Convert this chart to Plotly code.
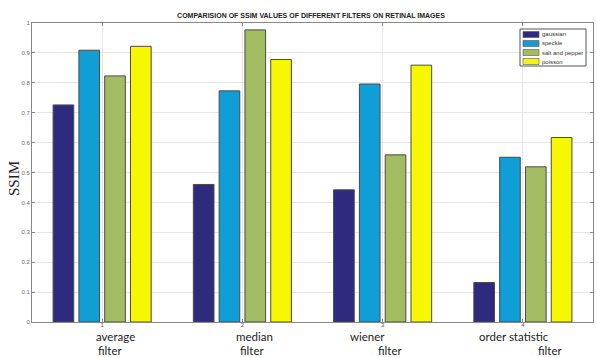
import plotly.graph_objects as go

categories = [1, 2, 3, 4]
tick_text = ["1", "2", "3", "4"]
filter_line1 = ["average", "median", "wiener", "order statistic"]
filter_line2 = ["filter", "filter", "filter", "filter"]

series_names = ["gaussian", "speckle", "salt and pepper", "poisson"]
gaussian = [0.726, 0.460, 0.442, 0.132]
speckle = [0.909, 0.773, 0.796, 0.551]
salt_and_pepper = [0.823, 0.977, 0.559, 0.519]
poisson = [0.922, 0.878, 0.859, 0.617]
series_values = [gaussian, speckle, salt_and_pepper, poisson]
colors = ["#2e2a7e", "#0f9fd6", "#a2bc62", "#f7f700"]

yticks = [0, 0.1, 0.2, 0.3, 0.4, 0.5, 0.6, 0.7, 0.8, 0.9, 1]
ytick_text = ["0", "0.1", "0.2", "0.3", "0.4", "0.5", "0.6", "0.7", "0.8", "0.9", "1"]

W, H = 597, 358
L, R, T, B = 32, 4, 23, 36
PW, PH = W - L - R, H - T - B

fig = go.Figure()
for name, vals, col in zip(series_names, series_values, colors):
    fig.add_trace(go.Bar(x=categories, y=vals, name=name,
                         marker=dict(color=col, line=dict(color="#4a4a4a", width=1)),
                         showlegend=False))

def px_x(p):
    return (p - L) / PW

def px_y(p):
    return (H - B - p) / PH

shapes = []
annotations = []
# manual legend
shapes.append(dict(type="rect", xref="paper", yref="paper",
                   x0=px_x(520), x1=px_x(586), y0=px_y(66), y1=px_y(29),
                   line=dict(color="#555555", width=1), fillcolor="white", layer="above"))
row_y = [34.5, 43.5, 52.5, 61.5]
for name, col, ry in zip(series_names, colors, row_y):
    shapes.append(dict(type="rect", xref="paper", yref="paper",
                       x0=px_x(523), x1=px_x(539), y0=px_y(ry + 3), y1=px_y(ry - 3),
                       line=dict(color="#555555", width=0.6), fillcolor=col, layer="above"))
    annotations.append(dict(xref="paper", yref="paper", x=px_x(540), y=px_y(ry),
                            text=name, showarrow=False, xanchor="left", yanchor="middle",
                            font=dict(family="Liberation Sans", size=6, color="#333333")))

shift1 = [13, 12, -15, -9]
shift2 = [8, 10, 7, 27]
for c, t1, t2, s1, s2 in zip(categories, filter_line1, filter_line2, shift1, shift2):
    annotations.append(dict(xref="x", yref="paper", x=c, y=px_y(336), xshift=s1,
                            text=t1, showarrow=False, xanchor="center", yanchor="middle",
                            font=dict(family="Lato", size=11.5, color="#222222")))
    annotations.append(dict(xref="x", yref="paper", x=c, y=px_y(350.8), xshift=s2,
                            text=t2, showarrow=False, xanchor="center", yanchor="middle",
                            font=dict(family="Lato", size=11.5, color="#222222")))

annotations.append(dict(xref="paper", yref="paper", x=px_x(14), y=px_y(178),
                        text="SSIM", showarrow=False, textangle=-90,
                        xanchor="center", yanchor="middle",
                        font=dict(family="Liberation Serif", size=15, color="#222222")))

fig.update_layout(
    width=W, height=H,
    margin=dict(l=L, r=R, t=T, b=B, pad=0),
    paper_bgcolor="white", plot_bgcolor="white",
    barmode="group", bargap=0.264, bargroupgap=0.2,
    title=dict(text="<b>COMPARISION OF SSIM VALUES OF DIFFERENT FILTERS ON RETINAL IMAGES</b>",
               x=311 / W, xanchor="center", y=1 - 15.5 / H, yanchor="middle",
               yref="container", font=dict(family="Liberation Sans", size=7, color="#222222")),
    xaxis=dict(range=[0.5, 4.5], tickvals=categories, ticktext=tick_text,
               showgrid=True, gridcolor="#e6e6e6", gridwidth=1,
               showline=True, linecolor="#888888", linewidth=1, mirror="ticks",
               ticks="inside", ticklen=3, tickcolor="#888888",
               ticklabelstandoff=-3,
               tickfont=dict(family="Liberation Sans", size=6, color="#555555"),
               zeroline=False, fixedrange=True),
    yaxis=dict(range=[0, 1], tickvals=yticks, ticktext=ytick_text,
               showgrid=True, gridcolor="#e6e6e6", gridwidth=1,
               showline=True, linecolor="#888888", linewidth=1, mirror="ticks",
               ticks="inside", ticklen=3, tickcolor="#888888",
               tickfont=dict(family="Liberation Sans", size=6, color="#666666"),
               zeroline=False, fixedrange=True),
    shapes=shapes, annotations=annotations,
)

fig.write_html("out.html")
